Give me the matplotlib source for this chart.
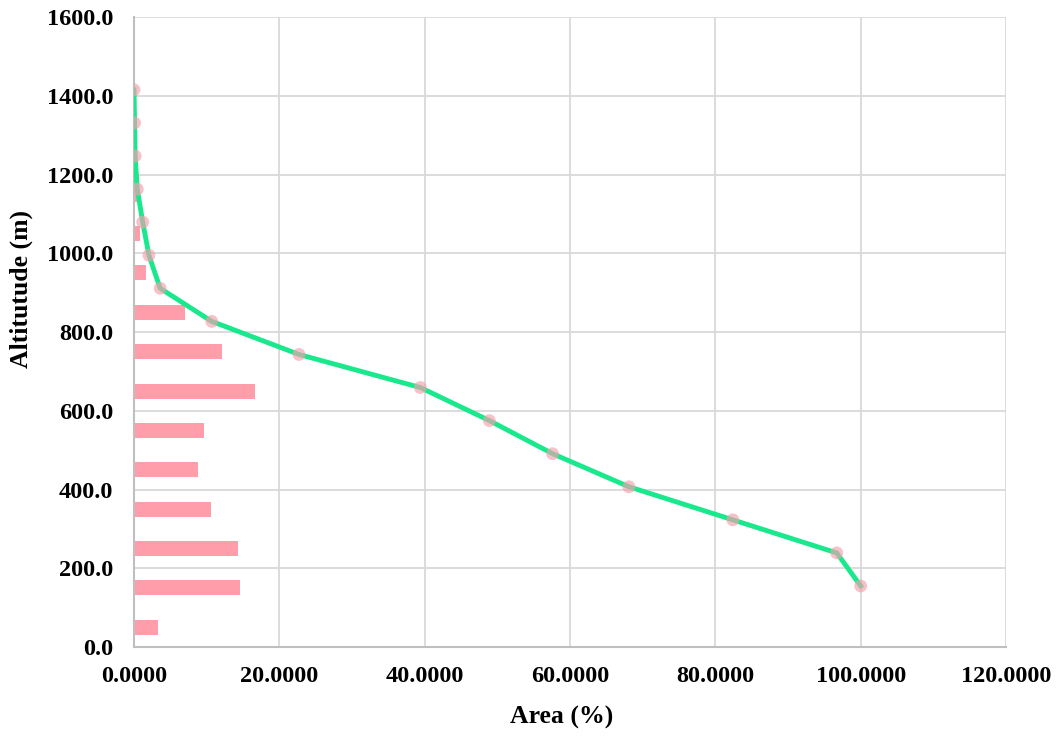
import matplotlib.pyplot as plt
from matplotlib.ticker import FormatStrFormatter

# altitude bands (m) and share of area in each band (%)
band_alt = [50, 150, 250, 350, 450, 550, 650, 750, 850, 950, 1050, 1150]
band_area = [3.3, 14.6, 14.3, 10.6, 8.8, 9.6, 16.6, 12.1, 7.0, 1.6, 0.8, 0.35]

# cumulative area above each altitude (%)
cum_alt = [155, 239, 323, 407, 491, 575, 659, 743, 827, 911, 995, 1079, 1163, 1247, 1331, 1415]
cum_area = [100.0, 96.7, 82.4, 68.1, 57.6, 48.9, 39.4, 22.7, 10.7, 3.6, 2.05, 1.2, 0.45, 0.15, 0.08, 0.0]

plt.rcParams['font.family'] = ['Liberation Serif', 'DejaVu Serif']
plt.rcParams['font.weight'] = 'bold'

fig = plt.figure(figsize=(10.56, 7.36), dpi=100)
ax = fig.add_axes([0.1269, 0.1209, 0.8258, 0.856])

ax.barh(band_alt, band_area, height=38, color='#ff9eaa', zorder=2)
ax.plot(cum_area, cum_alt, color='#19e88c', lw=3.5, zorder=3)
ax.scatter(cum_area, cum_alt, s=85, color='#f4a0ae', alpha=0.65, edgecolors='none', zorder=4)

ax.set_xlim(0, 120)
ax.set_ylim(0, 1600)
ax.set_xticks(range(0, 121, 20))
ax.set_yticks(range(0, 1601, 200))
ax.xaxis.set_major_formatter(FormatStrFormatter('%.4f'))
ax.yaxis.set_major_formatter(FormatStrFormatter('%.1f'))
ax.grid(True, color='#d9d9d9', lw=1.3, zorder=0)
ax.set_axisbelow(True)

for s in ['top', 'right']:
    ax.spines[s].set_visible(False)
for s in ['left', 'bottom']:
    ax.spines[s].set_color('#bfbfbf')
    ax.spines[s].set_linewidth(1.5)

ax.tick_params(length=0, labelsize=17.5)
ax.tick_params(axis='y', pad=15)
ax.tick_params(axis='x', pad=14)
for lab in ax.get_xticklabels() + ax.get_yticklabels():
    lab.set_fontweight('bold')

ax.set_xlabel('Area (%)', fontsize=18.5, fontweight='bold')
ax.set_ylabel('Altitutude (m)', fontsize=18.5, fontweight='bold')
ax.xaxis.set_label_coords(0.49, -0.094)
ax.yaxis.set_label_coords(-0.116, 0.568)

fig.savefig('out.png', dpi=100)
